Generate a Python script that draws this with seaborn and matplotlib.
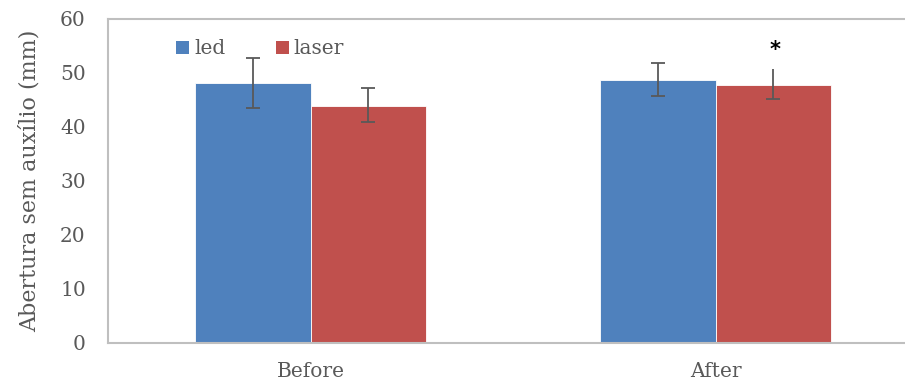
import matplotlib
matplotlib.use("Agg")
import matplotlib.pyplot as plt
import seaborn as sns
import pandas as pd
from matplotlib.patches import Patch

# Data
periods = ["Before", "After"]
groups = ["led", "laser"]
led_mean = [48.2, 48.7]
laser_mean = [43.8, 47.8]
led_err_low = [4.6, 2.9]
led_err_high = [4.6, 3.1]
laser_err_low = [2.8, 2.6]
laser_err_high = [3.5, 2.9]
significant = [False, True]  # marks the laser bar with an asterisk

yticks = [0, 10, 20, 30, 40, 50, 60]
ylabel = "Abertura sem auxílio (mm)"

colors = {"led": "#4F81BD", "laser": "#C0504D"}
text_grey = "#595959"
axis_grey = "#BFBFBF"
err_grey = "#595959"

df = pd.DataFrame({
    "period": periods * 2,
    "group": ["led"] * len(periods) + ["laser"] * len(periods),
    "value": led_mean + laser_mean,
})

sns.set_theme(style="white")
plt.rcParams["font.family"] = ["DejaVu Serif"]

fig = plt.figure(figsize=(9.05, 3.88), dpi=100)
W, H = 905, 388
ax = fig.add_axes([108 / W, 1 - 343 / H, 810 / W, (343 - 19) / H])

sns.barplot(data=df, x="period", y="value", hue="group", order=periods,
            hue_order=groups, palette=colors, width=0.57, errorbar=None,
            edgecolor="white", linewidth=0.6, saturation=1, ax=ax)

err = {"led": (led_err_low, led_err_high), "laser": (laser_err_low, laser_err_high)}
means = {"led": led_mean, "laser": laser_mean}
for g, cont in zip(groups, ax.containers):
    lo, hi = err[g]
    for i, bar in enumerate(cont):
        xc = bar.get_x() + bar.get_width() / 2
        m = means[g][i]
        if g == "laser" and significant[i]:
            # whisker with a lower cap only, asterisk above
            ax.plot([xc, xc], [m - lo[i], m + hi[i]], color=err_grey, lw=1.3,
                    solid_capstyle="butt")
            ax.plot([xc], [m - lo[i]], marker="_", markersize=9.4,
                    markeredgewidth=1.3, color=err_grey)
            ax.text(xc + 2 / 405, m + hi[i] + 3.6, "*", ha="center", va="center",
                    fontsize=15, fontweight="bold", color="black",
                    family="DejaVu Sans")
        else:
            ax.errorbar(xc, m, yerr=[[lo[i]], [hi[i]]], fmt="none", ecolor=err_grey,
                        elinewidth=1.3, capsize=4.7, capthick=1.3)

ax.set_ylim(0, 60)
ax.set_xlim(-0.5, 1.5)
ax.set_yticks(yticks)
ax.set_xlabel("")
ax.set_ylabel(ylabel, fontsize=16, color=text_grey, labelpad=14)
ax.tick_params(axis="y", length=0, pad=16, labelsize=14.5, labelcolor=text_grey)
ax.tick_params(axis="x", length=0, pad=14, labelsize=14.5, labelcolor=text_grey)

for side in ["left", "top", "bottom"]:
    ax.spines[side].set_visible(True)
    ax.spines[side].set_color(axis_grey)
    ax.spines[side].set_linewidth(1.5)
ax.spines["right"].set_visible(False)

if ax.get_legend() is not None:
    ax.get_legend().remove()
handles = [Patch(facecolor=colors[g], edgecolor="none") for g in groups]
fig.legend(handles, groups, loc="center left", bbox_to_anchor=(176 / W, 1 - 49 / H),
           ncol=2, frameon=False, fontsize=14.5, labelcolor=text_grey,
           handlelength=0.65, handleheight=0.65, handletextpad=0.25,
           columnspacing=2.5, borderpad=0, borderaxespad=0)

fig.savefig("out.png", dpi=100)
